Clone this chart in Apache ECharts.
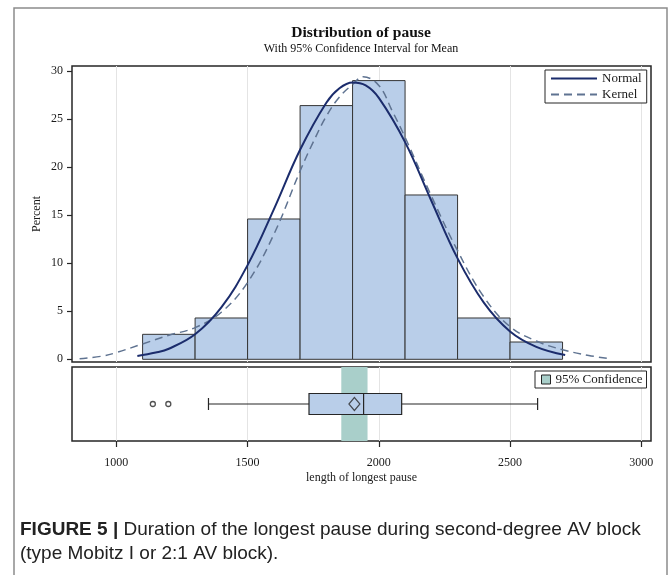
<!DOCTYPE html>
<html><head><meta charset="utf-8">
<script src="https://cdn.jsdelivr.net/npm/echarts@6/dist/echarts.min.js"></script>
<style>html,body{margin:0;padding:0;background:#fff}#c{width:669px;height:575px}</style>
</head><body><div id="c"></div>
<script>
// ---- data ----
const binEdges = [1100, 1300, 1500, 1700, 1900, 2100, 2300, 2500, 2700];
const binPercents = [2.6, 4.3, 14.6, 26.4, 29.0, 17.1, 4.3, 1.8];
const normalX = [1080, 1150, 1200, 1300, 1400, 1500, 1600, 1700, 1800, 1850, 1900, 1950, 2000, 2100, 2200, 2300, 2400, 2500, 2600, 2710];
const normalY = [0.35, 0.7, 1.1, 2.6, 5.4, 9.8, 15.6, 21.8, 26.7, 28.2, 28.8, 28.5, 27.2, 22.6, 16.5, 10.5, 5.9, 2.9, 1.3, 0.45];
const kernelX = [860, 950, 1000, 1100, 1200, 1300, 1400, 1500, 1600, 1700, 1750, 1800, 1850, 1900, 1940, 2000, 2050, 2100, 2200, 2300, 2400, 2500, 2600, 2700, 2800, 2870];
const kernelY = [0.05, 0.35, 0.7, 1.6, 2.5, 3.3, 4.9, 8.0, 13.0, 19.6, 22.6, 25.3, 27.3, 28.6, 29.4, 28.5, 25.9, 23.1, 17.0, 11.3, 6.5, 3.4, 1.9, 1.0, 0.4, 0.1];
const boxStats = [1351, 1734, 1942, 2087, 2605]; // whisker low, Q1, median, Q3, whisker high
const meanValue = 1907;
const outliers = [1139, 1198];
const ciMean = [1857, 1957];
const xTicks = [1000, 1500, 2000, 2500, 3000];
const yTicks = [0, 5, 10, 15, 20, 25, 30];
const boxCategory = ['pause'];

// ---- styling ----
const serif = '"Liberation Serif","Times New Roman",serif';
const sans = '"Liberation Sans",Arial,sans-serif';
const X_MIN = 831, X_MAX = 3037;
const Y_MIN = -0.28, Y_MAX = 30.52;
const ink = '#262626';
const gridLine = {show: true, lineStyle: {color: '#e4e4e4', width: 1}};
const labelStyle = {fontFamily: serif, fontSize: 12, color: '#1a1a1a'};
const legendText = {fontFamily: serif, fontSize: 13, color: '#1a1a1a'};
const bandColor = '#a9cfca';
const plain = v => String(v);

const chart = echarts.init(document.getElementById('c'), null, {renderer: 'canvas'});

const option = {
  animation: false,
  backgroundColor: '#fff',
  grid: [
    {left: 72, top: 66, width: 579, height: 296, show: true, borderColor: ink, borderWidth: 1.5, backgroundColor: 'transparent'},
    {left: 72, top: 367, width: 579, height: 74, show: true, borderColor: ink, borderWidth: 1.5, backgroundColor: 'transparent'}
  ],
  xAxis: [
    {gridIndex: 0, type: 'value', min: X_MIN, max: X_MAX,
     axisLine: {show: false}, axisTick: {show: false, customValues: xTicks},
     axisLabel: {show: false, customValues: xTicks}, splitLine: gridLine},
    {gridIndex: 1, type: 'value', min: X_MIN, max: X_MAX,
     axisLine: {show: false},
     axisTick: {show: true, length: 6, customValues: xTicks, lineStyle: {color: ink, width: 1.2}},
     axisLabel: Object.assign({customValues: xTicks, margin: 16, formatter: plain}, labelStyle),
     splitLine: gridLine,
     name: 'length of longest pause', nameLocation: 'middle', nameGap: 31,
     nameTextStyle: labelStyle}
  ],
  yAxis: [
    {gridIndex: 0, type: 'value', min: Y_MIN, max: Y_MAX,
     axisLine: {show: false},
     axisTick: {show: true, length: 5, customValues: yTicks, lineStyle: {color: ink, width: 1.2}},
     axisLabel: Object.assign({customValues: yTicks, margin: 9, formatter: plain}, labelStyle),
     splitLine: {show: false},
     name: 'Percent', nameLocation: 'middle', nameGap: 29, nameRotate: 90, nameMoveOverlap: false,
     nameTextStyle: labelStyle},
    {gridIndex: 1, type: 'category', data: boxCategory, show: false}
  ],
  legend: [
    {data: ['Normal', 'Kernel'], orient: 'vertical', left: 545, top: 70,
     itemWidth: 46, itemHeight: 13, itemGap: 3, padding: [2, 5, 2, 5],
     itemStyle: {opacity: 0},
     borderColor: ink, borderWidth: 1, backgroundColor: '#fff',
     textStyle: legendText, selectedMode: false},
    {data: [{name: '95% Confidence', icon: 'rect', itemStyle: {color: bandColor, borderColor: ink, borderWidth: 1}}],
     left: 535, top: 371, itemWidth: 9, itemHeight: 9, itemGap: 2, padding: [2, 4, 2, 6],
     borderColor: ink, borderWidth: 1, backgroundColor: '#fff',
     textStyle: legendText, selectedMode: false}
  ],
  series: [
    {type: 'custom', name: 'hist', xAxisIndex: 0, yAxisIndex: 0, z: 2,
     data: binPercents.map((p, i) => [binEdges[i], binEdges[i + 1], p]),
     encode: {x: [0, 1], y: 2},
     renderItem: function (params, api) {
       const a = api.coord([api.value(0), 0]);
       const b = api.coord([api.value(1), api.value(2)]);
       return {type: 'rect', shape: {x: a[0], y: b[1], width: b[0] - a[0], height: a[1] - b[1]},
               style: {fill: '#b9cee9', stroke: '#353535', lineWidth: 1}};
     }},
    {type: 'line', name: 'Normal', xAxisIndex: 0, yAxisIndex: 0, z: 4, smooth: 0.4,
     symbol: 'none', data: normalX.map((x, i) => [x, normalY[i]]),
     lineStyle: {color: '#1b2c6c', width: 2}, itemStyle: {color: '#1b2c6c'}},
    {type: 'line', name: 'Kernel', xAxisIndex: 0, yAxisIndex: 0, z: 3, smooth: 0.4,
     symbol: 'none', data: kernelX.map((x, i) => [x, kernelY[i]]),
     lineStyle: {color: '#5f7391', width: 1.5, type: [8, 5]}, itemStyle: {color: '#5f7391'}},
    {type: 'custom', name: '95% Confidence', xAxisIndex: 1, yAxisIndex: 1, z: 1,
     itemStyle: {color: bandColor},
     data: [[ciMean[0], ciMean[1], 0]], encode: {x: [0, 1], y: 2},
     renderItem: function (params, api) {
       const a = api.coord([api.value(0), 0]);
       const b = api.coord([api.value(1), 0]);
       const cs = params.coordSys;
       return {type: 'rect', shape: {x: a[0], y: cs.y, width: b[0] - a[0], height: cs.height},
               style: {fill: bandColor}};
     }},
    {type: 'custom', name: 'box', xAxisIndex: 1, yAxisIndex: 1, z: 3,
     data: [boxStats.concat([0])], encode: {x: [0, 1, 2, 3, 4], y: 5},
     renderItem: function (params, api) {
       const lo = api.coord([api.value(0), api.value(5)]);
       const q1 = api.coord([api.value(1), api.value(5)]);
       const md = api.coord([api.value(2), api.value(5)]);
       const q3 = api.coord([api.value(3), api.value(5)]);
       const hi = api.coord([api.value(4), api.value(5)]);
       const y = lo[1], h = 10.5, c = 6;
       const ls = {stroke: ink, lineWidth: 1.2};
       return {type: 'group', children: [
         {type: 'line', shape: {x1: lo[0], y1: y, x2: q1[0], y2: y}, style: ls},
         {type: 'line', shape: {x1: q3[0], y1: y, x2: hi[0], y2: y}, style: ls},
         {type: 'line', shape: {x1: lo[0], y1: y - c, x2: lo[0], y2: y + c}, style: ls},
         {type: 'line', shape: {x1: hi[0], y1: y - c, x2: hi[0], y2: y + c}, style: ls},
         {type: 'rect', shape: {x: q1[0], y: y - h, width: q3[0] - q1[0], height: 2 * h},
          style: {fill: '#b9cee9', stroke: ink, lineWidth: 1.2}},
         {type: 'line', shape: {x1: md[0], y1: y - h, x2: md[0], y2: y + h}, style: ls}
       ]};
     }},
    {type: 'scatter', name: 'mean', xAxisIndex: 1, yAxisIndex: 1, z: 5,
     symbol: 'diamond', symbolSize: [11, 13], data: [[meanValue, 0]],
     itemStyle: {color: 'rgba(0,0,0,0)', borderColor: ink, borderWidth: 1.2}},
    {type: 'scatter', name: 'outliers', xAxisIndex: 1, yAxisIndex: 1, z: 5,
     symbol: 'circle', symbolSize: 5, data: outliers.map(v => [v, 0]),
     itemStyle: {color: '#fff', borderColor: ink, borderWidth: 1.3}}
  ],
  graphic: [
    {type: 'rect', z: -1, shape: {x: 14, y: 8, width: 653, height: 600},
     style: {fill: 'none', stroke: '#8c8c8c', lineWidth: 1.5}, silent: true},
    {type: 'text', x: 361, y: 33, style: {text: 'Distribution of pause', font: 'bold 15.5px ' + serif,
     align: 'center', verticalAlign: 'middle', fill: '#111'}},
    {type: 'text', x: 361, y: 49, style: {text: 'With 95% Confidence Interval for Mean', font: '12px ' + serif,
     align: 'center', verticalAlign: 'middle', fill: '#111'}},
    {type: 'text', x: 20, y: 518, style: {
      text: '{b|FIGURE 5 |} Duration of the longest pause during second-degree AV block\n(type Mobitz I or 2:1 AV block).',
      fontFamily: sans, fontSize: 19, lineHeight: 24, fill: '#222',
      rich: {b: {fontFamily: sans, fontSize: 19, fontWeight: 'bold', lineHeight: 24, fill: '#222'}}
    }}
  ]
};
chart.setOption(option);
</script>
</body></html>
